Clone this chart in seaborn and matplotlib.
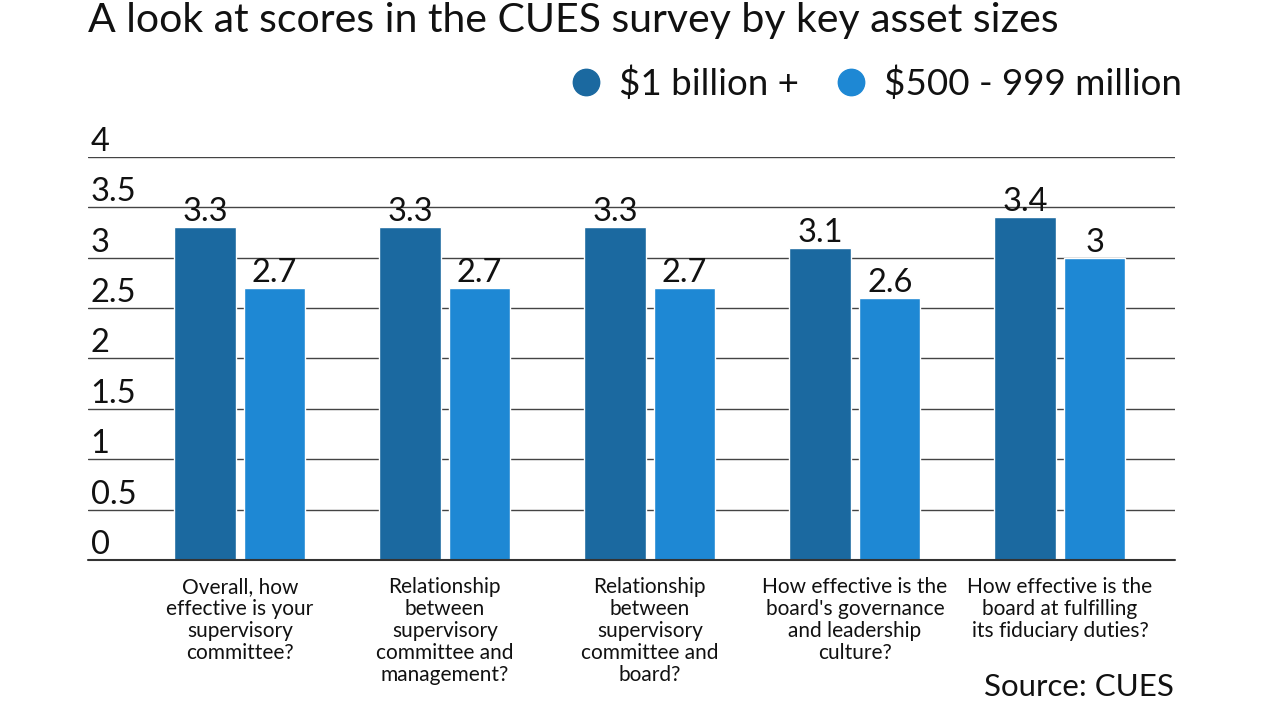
import pandas as pd
import matplotlib
matplotlib.use('Agg')
import matplotlib.pyplot as plt
from matplotlib.lines import Line2D
import seaborn as sns

# Chart data
questions = [
    'Overall, how\neffective is your\nsupervisory\ncommittee?',
    'Relationship\nbetween\nsupervisory\ncommittee and\nmanagement?',
    'Relationship\nbetween\nsupervisory\ncommittee and\nboard?',
    "How effective is the\nboard's governance\nand leadership\nculture?",
    'How effective is the\nboard at fulfilling\nits fiduciary duties?',
]
series_names = ['$1 billion +', '$500 - 999 million']
billion_plus = [3.3, 3.3, 3.3, 3.1, 3.4]
mid_size = [2.7, 2.7, 2.7, 2.6, 3.0]
y_ticks = [0, 0.5, 1, 1.5, 2, 2.5, 3, 3.5, 4]
colors = ['#1b69a0', '#1e88d4']

df = pd.DataFrame({
    'question': questions * 2,
    'group': [series_names[0]] * 5 + [series_names[1]] * 5,
    'score': billion_plus + mid_size,
})

sns.set_theme(style='white')
plt.rcParams['font.family'] = ['Lato', 'DejaVu Sans']

fig = plt.figure(figsize=(12.8, 7.2), dpi=100)
ax = fig.add_axes([0.06875, 0.2222, 0.849, 0.5598])

sns.barplot(data=df, x='question', y='score', hue='group', palette=colors,
            width=0.68, gap=0.12, legend=False, ax=ax, saturation=1)

for c in ax.containers:
    ax.bar_label(c, labels=[f'{v:g}' for v in c.datavalues], padding=0,
                 fontsize=23.5, color='#111111')

ax.set_ylim(0, 4)
ax.set_xlim(-0.74, 4.56)
ax.set_yticks(y_ticks)
ax.set_yticklabels([f'{t:g}' for t in y_ticks])
ax.grid(axis='y', color='#444444', linewidth=1)
ax.set_axisbelow(True)
ax.axhline(0, color='#333333', linewidth=1.5, clip_on=False, zorder=3)
for s in ax.spines.values():
    s.set_visible(False)
ax.tick_params(axis='y', length=0, pad=-2, labelsize=23.5, labelcolor='#111111')
for lab in ax.get_yticklabels():
    lab.set_horizontalalignment('left')
    lab.set_verticalalignment('bottom')
ax.tick_params(axis='x', length=0, pad=12, labelsize=15, labelcolor='#111111')
for lab in ax.get_xticklabels():
    lab.set_linespacing(1.13)
    lab.set_verticalalignment('top')
ax.set_xlabel('')
ax.set_ylabel('')

# Title
fig.text(0.0688, 0.997, 'A look at scores in the CUES survey by key asset sizes',
         fontsize=29.5, color='#111111', va='top', ha='left')

# Legend
handles = [Line2D([0], [0], marker='o', linestyle='', markersize=19,
                  markerfacecolor=col, markeredgecolor=col) for col in colors]
fig.legend(handles, series_names, loc='center right',
           bbox_to_anchor=(1182 / 1280, 1 - 84 / 720),
           ncol=2, frameon=False, fontsize=26.5, handlelength=0.8,
           handletextpad=0.5, columnspacing=1.0, borderpad=0,
           borderaxespad=0, labelcolor='#111111')

# Source
fig.text(0.917, 0.046, 'Source: CUES', fontsize=22.5, color='#111111',
         ha='right', va='center')

fig.savefig('out.png', dpi=100)
